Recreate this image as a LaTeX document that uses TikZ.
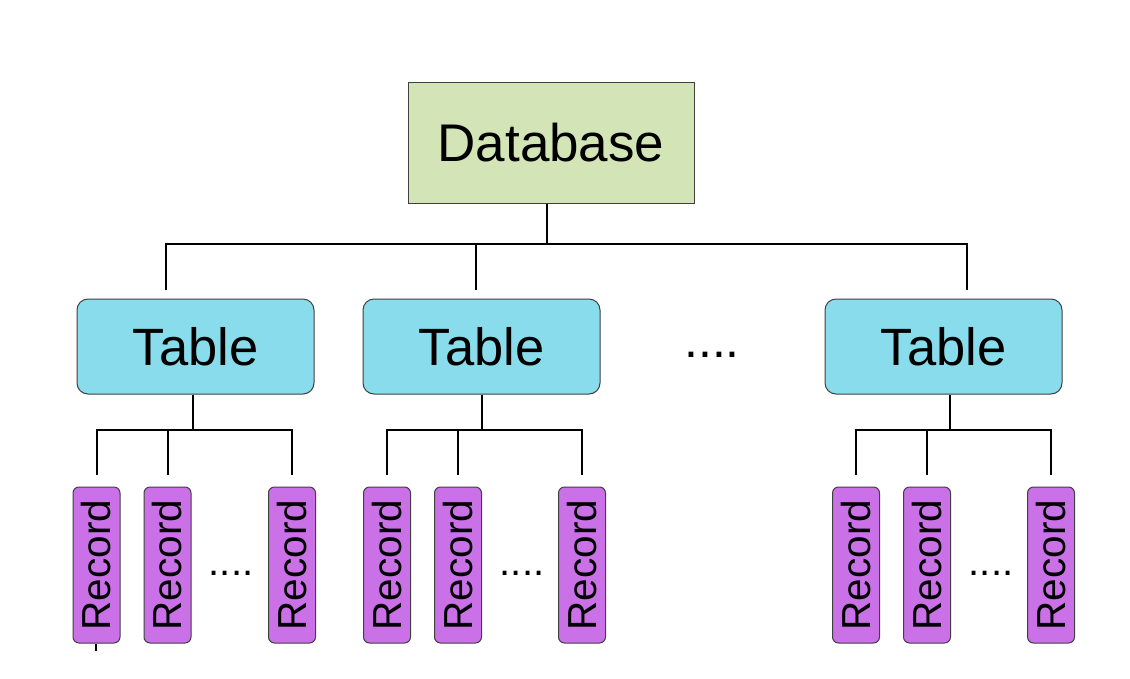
\documentclass[tikz,border=0pt]{standalone}
\usepackage{fontspec}
\setmainfont{Liberation Sans}
\definecolor{dbfill}{RGB}{211,229,183}
\definecolor{tabfill}{RGB}{136,220,236}
\definecolor{recfill}{RGB}{202,113,232}
\definecolor{edge}{RGB}{64,64,64}
\tikzset{
  dbbox/.style={draw=edge, line width=1pt, fill=dbfill, minimum width=286pt, minimum height=121pt, inner sep=0pt,
    font=\fontsize{53}{60}\selectfont},
  tabbox/.style={draw=edge, line width=1pt, fill=tabfill, rounded corners=11pt, minimum width=237pt, minimum height=95pt, inner sep=0pt,
    font=\fontsize{52.5}{60}\selectfont},
  recbox/.style={draw=edge, line width=1pt, fill=recfill, rounded corners=6pt, minimum width=156pt, minimum height=47pt, inner sep=0pt,
    rotate=90, font=\fontsize{40.5}{48}\selectfont},
  conn/.style={draw=black, line width=2pt},
  bigdots/.style={inner sep=0pt, font=\fontsize{50}{60}\selectfont},
  smalldots/.style={inner sep=0pt, font=\fontsize{40}{50}\selectfont}
}
\begin{document}
\begin{tikzpicture}[x=1pt, y=-1pt]
\useasboundingbox[fill=white] (0,0) rectangle (1130,678);
% top
\node[dbbox] (db) at (551,142.5) {Database};
% tables
\node[tabbox] (t1) at (195.5,346.5) {Table};
\node[tabbox] (t2) at (481.5,346.5) {Table};
\node[tabbox] (t3) at (943.5,346.5) {Table};
\node[bigdots] (tdots) at (712,355) {....};
% records
\foreach \g/\a/\b/\c in {1/96.5/167.5/292, 2/387/458/582, 3/856/927/1051}{
  \node[recbox] (r\g a) at (\a,565) {Record};
  \node[recbox] (r\g b) at (\b,565) {Record};
  \node[recbox] (r\g c) at (\c,565) {Record};
}
\node[smalldots] (rdots1) at (231,573) {....};
\node[smalldots] (rdots2) at (522,573) {....};
\node[smalldots] (rdots3) at (991,573) {....};
% database to tables
\coordinate (bus) at (0,244);
\coordinate (dbs) at (547,0);
\coordinate (d1) at (166,290);
\coordinate (d2) at (476,290);
\coordinate (d3) at (967,290);
\draw[conn] (db.south -| dbs) -- (dbs |- bus);
\draw[conn] (d1) |- (d3 |- bus) -- (d3);
\draw[conn] (d2) -- (d2 |- bus);
% tables to records
\foreach \g/\sx in {1/193, 2/482, 3/950}{
  \coordinate (s\g) at (\sx,430);
  \coordinate (e\g a) at ([yshift=12pt]r\g a.east);
  \coordinate (e\g b) at ([yshift=12pt]r\g b.east);
  \coordinate (e\g c) at ([yshift=12pt]r\g c.east);
  \draw[conn] (t\g.south -| s\g) -- (s\g);
  \draw[conn] (e\g a) |- (s\g) -| (e\g c);
  \draw[conn] (e\g b) -- (e\g b |- s\g);
}
% small stub under first record
\coordinate (stub) at (96,651);
\draw[line width=1.5pt] (r1a.west -| stub) -- (stub);
\end{tikzpicture}
\end{document}
